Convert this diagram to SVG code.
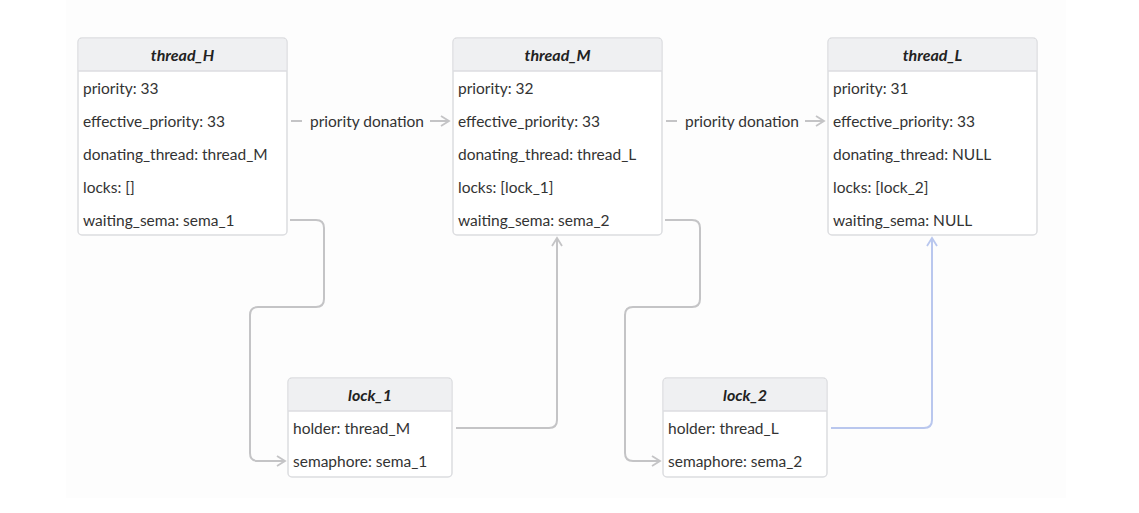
<svg xmlns="http://www.w3.org/2000/svg" width="1139" height="513" viewBox="0 0 1139 513">
<defs>
<style>
.box{fill:#ffffff;stroke:#dcdde0;stroke-width:1.5}
.hdr{fill:#eff0f2}
.sep{stroke:#dcdde0;stroke-width:1.5}
.title{font-family:Lato,"Noto Sans",sans-serif;font-size:16px;font-weight:bold;font-style:italic;fill:#222;text-anchor:middle}
.row{font-family:Lato,"Noto Sans",sans-serif;font-size:15.5px;fill:#333}
.lbl{font-family:Lato,"Noto Sans",sans-serif;font-size:15.5px;fill:#333;text-anchor:middle}
.edge{fill:none;stroke:#c4c4c6;stroke-width:2}
.blue{fill:none;stroke:#b9c7ee;stroke-width:2}
</style>
<marker id="arr" viewBox="0 0 12 12" refX="10" refY="6" markerWidth="12" markerHeight="12" markerUnits="userSpaceOnUse" orient="auto">
<path d="M2,1 L10,6 L2,11" fill="none" stroke="#c4c4c6" stroke-width="1.8"/>
</marker>
<marker id="arrb" viewBox="0 0 12 12" refX="10" refY="6" markerWidth="12" markerHeight="12" markerUnits="userSpaceOnUse" orient="auto">
<path d="M2,1 L10,6 L2,11" fill="none" stroke="#b9c7ee" stroke-width="1.8"/>
</marker>
</defs>
<rect x="66" y="0" width="1000" height="498" fill="#fdfdfd"/>
<g id="connectors">
<path class="edge" d="M291,121 H302"/>
<path class="edge" d="M430,121 H449" marker-end="url(#arr)"/>
<text class="lbl" x="367" y="127">priority donation</text>
<path class="edge" d="M666,121 H677"/>
<path class="edge" d="M805,121 H824" marker-end="url(#arr)"/>
<text class="lbl" x="742" y="127">priority donation</text>
<path class="edge" d="M290,220 H316 Q324,220 324,228 V299 Q324,307 316,307 H258 Q250,307 250,315 V453 Q250,461 258,461 H285" marker-end="url(#arr)"/>
<path class="edge" d="M456,428 H549 Q557,428 557,420 V238" marker-end="url(#arr)"/>
<path class="edge" d="M665,220 H692 Q700,220 700,228 V299 Q700,307 692,307 H633 Q625,307 625,315 V453 Q625,461 633,461 H660" marker-end="url(#arr)"/>
<path class="blue" d="M831,428 H924 Q932,428 932,420 V238" marker-end="url(#arrb)"/>
</g>
<g id="thread_H">
<rect class="box" x="78" y="38" width="209" height="197" rx="4"/>
<path class="hdr" d="M82,38.75 H283 A3.25,3.25 0 0 1 286.25,42 V71 H78.75 V42 A3.25,3.25 0 0 1 82,38.75 Z"/>
<line class="sep" x1="78" y1="71" x2="287" y2="71"/>
<text class="title" x="182.5" y="61">thread_H</text>
<text class="row" x="83" y="94">priority: 33</text>
<text class="row" x="83" y="127">effective_priority: 33</text>
<text class="row" x="83" y="160">donating_thread: thread_M</text>
<text class="row" x="83" y="193">locks: []</text>
<text class="row" x="83" y="226">waiting_sema: sema_1</text>
</g>
<g id="thread_M">
<rect class="box" x="453" y="38" width="209" height="197" rx="4"/>
<path class="hdr" d="M457,38.75 H658 A3.25,3.25 0 0 1 661.25,42 V71 H453.75 V42 A3.25,3.25 0 0 1 457,38.75 Z"/>
<line class="sep" x1="453" y1="71" x2="662" y2="71"/>
<text class="title" x="557.5" y="61">thread_M</text>
<text class="row" x="458" y="94">priority: 32</text>
<text class="row" x="458" y="127">effective_priority: 33</text>
<text class="row" x="458" y="160">donating_thread: thread_L</text>
<text class="row" x="458" y="193">locks: [lock_1]</text>
<text class="row" x="458" y="226">waiting_sema: sema_2</text>
</g>
<g id="thread_L">
<rect class="box" x="828" y="38" width="209" height="197" rx="4"/>
<path class="hdr" d="M832,38.75 H1033 A3.25,3.25 0 0 1 1036.25,42 V71 H828.75 V42 A3.25,3.25 0 0 1 832,38.75 Z"/>
<line class="sep" x1="828" y1="71" x2="1037" y2="71"/>
<text class="title" x="932.5" y="61">thread_L</text>
<text class="row" x="833" y="94">priority: 31</text>
<text class="row" x="833" y="127">effective_priority: 33</text>
<text class="row" x="833" y="160">donating_thread: NULL</text>
<text class="row" x="833" y="193">locks: [lock_2]</text>
<text class="row" x="833" y="226">waiting_sema: NULL</text>
</g>
<g id="lock_1">
<rect class="box" x="288" y="378" width="164" height="99" rx="4"/>
<path class="hdr" d="M292,378.75 H448 A3.25,3.25 0 0 1 451.25,382 V411 H288.75 V382 A3.25,3.25 0 0 1 292,378.75 Z"/>
<line class="sep" x1="288" y1="411" x2="452" y2="411"/>
<text class="title" x="370" y="401">lock_1</text>
<text class="row" x="293" y="434">holder: thread_M</text>
<text class="row" x="293" y="467">semaphore: sema_1</text>
</g>
<g id="lock_2">
<rect class="box" x="663" y="378" width="164" height="99" rx="4"/>
<path class="hdr" d="M667,378.75 H823 A3.25,3.25 0 0 1 826.25,382 V411 H663.75 V382 A3.25,3.25 0 0 1 667,378.75 Z"/>
<line class="sep" x1="663" y1="411" x2="827" y2="411"/>
<text class="title" x="745" y="401">lock_2</text>
<text class="row" x="668" y="434">holder: thread_L</text>
<text class="row" x="668" y="467">semaphore: sema_2</text>
</g>
</svg>
